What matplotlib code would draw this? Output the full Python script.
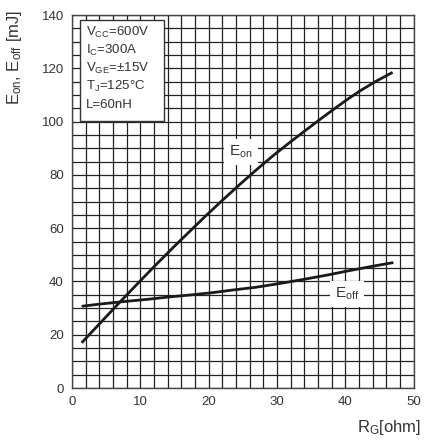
import numpy as np
import matplotlib.pyplot as plt

plt.rcParams['font.family'] = ['Liberation Sans', 'DejaVu Sans']
plt.rcParams['mathtext.fontset'] = 'custom'
plt.rcParams['mathtext.rm'] = 'Liberation Sans'

# switching energy vs gate resistance
rg_on = [1.4, 4.0, 7.3, 10.0, 12.2, 15.0, 19.5, 22.0, 24.7, 27.0, 29.4,
         32.0, 34.3, 36.3, 38.2, 40.2, 42.1, 44.5, 46.9]
e_on = [17.0, 24.1, 33.1, 40.3, 46.1, 53.3, 64.5, 70.5, 76.8, 82.0, 87.2,
        92.5, 97.0, 100.9, 104.5, 108.2, 111.5, 115.2, 118.5]

rg_off = [1.4, 4.0, 7.3, 11.0, 14.6, 17.5, 20.5, 23.5, 26.8, 30.5, 34.1,
          37.3, 40.4, 43.7, 47.0]
e_off = [30.7, 31.5, 32.4, 33.3, 34.3, 35.0, 35.8, 36.8, 37.8, 39.3, 40.9,
         42.4, 44.0, 45.6, 47.1]

conditions = [r'$\mathregular{V_{CC}}$=600V', r'$\mathregular{I_C}$=300A',
              r'$\mathregular{V_{GE}}$=±15V', r'$\mathregular{T_J}$=125°C', 'L=60nH']

fig = plt.figure(figsize=(4.24, 4.43), dpi=100)
ax = fig.add_axes([0.170, 0.124, 0.806, 0.842])

ax.set_xlim(0, 50)
ax.set_ylim(0, 140)
ax.set_xticks(np.arange(0, 51, 10))
ax.set_yticks(np.arange(0, 141, 20))
ax.set_xticks(np.arange(0, 51, 2), minor=True)
ax.set_yticks(np.arange(0, 141, 5), minor=True)
ax.grid(which='both', color='#222222', linewidth=0.9)
ax.tick_params(which='both', length=0, labelsize=9.5, colors='#333333', pad=6)
for s in ax.spines.values():
    s.set_color('#444444')
    s.set_linewidth(1.0)

ax.plot(rg_on, e_on, color='#1a1a1a', linewidth=2, solid_capstyle='butt',
        solid_joinstyle='round', zorder=4)
ax.plot(rg_off, e_off, color='#1a1a1a', linewidth=2, solid_capstyle='butt',
        solid_joinstyle='round', zorder=4)

lbl = dict(facecolor='white', edgecolor='none', pad=3.5)
ax.text(24.7, 88.5, r'$\mathregular{E_{on}}$', fontsize=11, ha='center', va='center',
        color='#333333', bbox=lbl, zorder=5)
ax.text(40.2, 35.4, r'$\mathregular{E_{off}}$', fontsize=11, ha='center', va='center',
        color='#333333', bbox=lbl, zorder=5)

# operating conditions box
ax.add_patch(plt.Rectangle((1.2, 100.3), 12.3, 38.0, facecolor='white',
                           edgecolor='#333333', linewidth=1.0, zorder=5))
for i, t in enumerate(conditions):
    ax.text(2.0, 133.5 - i * 6.8, t, fontsize=9.5, ha='left', va='center',
            color='#333333', zorder=6)

fig.text(0.035, 0.87, r'$\mathregular{E_{on}}$, $\mathregular{E_{off}}$ [mJ]', rotation=90,
         fontsize=12, ha='center', va='center', color='#333333')
fig.text(0.993, 0.035, r'$\mathregular{R_G}$[ohm]', fontsize=12, ha='right',
         va='center', color='#333333')

fig.savefig('out.png', dpi=100)
